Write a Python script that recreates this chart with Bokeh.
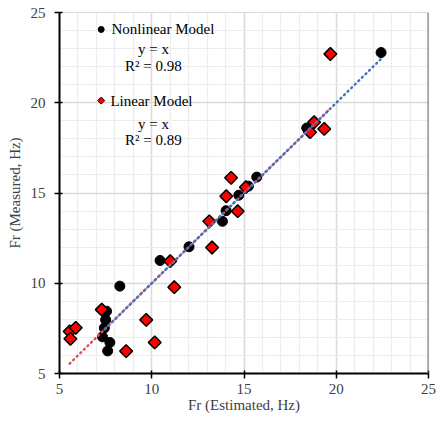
import numpy as np
from bokeh.plotting import figure
from bokeh.models import Range1d, Label, SingleIntervalTicker, Span
from bokeh.embed import file_html
from bokeh.resources import INLINE

# Nonlinear model (estimated, measured)
nl_est = [22.43, 18.40, 15.69, 15.24, 14.72, 14.03, 13.83, 12.02, 10.45, 8.27,
          7.55, 7.50, 7.43, 7.33, 7.73, 7.61]
nl_meas = [22.78, 18.60, 15.88, 15.38, 14.88, 14.02, 13.43, 12.02, 11.26, 9.84,
           8.45, 7.97, 7.52, 7.03, 6.72, 6.25]

# Linear model (estimated, measured)
lin_est = [19.68, 18.80, 18.58, 19.35, 14.30, 15.10, 14.04, 14.66, 13.12, 13.27,
           11.00, 11.22, 9.70, 10.16, 8.61, 7.29, 5.55, 5.88, 5.59]
lin_meas = [22.70, 18.92, 18.37, 18.55, 15.84, 15.32, 14.82, 13.99, 13.43, 11.98,
            11.22, 9.78, 7.97, 6.72, 6.24, 8.54, 7.33, 7.53, 6.92]

FONT = "Liberation Serif"

p = figure(width=436, height=424, output_backend="svg", toolbar_location=None,
           x_range=Range1d(5, 25), y_range=Range1d(5, 25),
           min_border_left=59, min_border_right=8, min_border_top=12,
           min_border_bottom=51, background_fill_color="white",
           border_fill_color="white", outline_line_color="#d9d9d9",
           outline_line_width=1)

for ax in (p.xaxis[0], p.yaxis[0]):
    ax.ticker = SingleIntervalTicker(interval=5, num_minor_ticks=5)
    ax.axis_line_color = "black"
    ax.axis_line_width = 2
    ax.major_tick_line_color = "black"
    ax.major_tick_line_width = 1.5
    ax.major_tick_out = 5
    ax.major_tick_in = 3
    ax.minor_tick_line_color = None
    ax.major_label_text_font = FONT
    ax.major_label_text_font_size = "15px"
    ax.major_label_text_color = "#404040"
    ax.axis_label_text_font = FONT
    ax.axis_label_text_font_size = "15px"
    ax.axis_label_text_font_style = "normal"
    ax.axis_label_text_color = "#404040"

p.xaxis.axis_label = "Fr (Estimated, Hz)"
p.yaxis.axis_label = "Fr (Measured, Hz)"
p.xaxis.major_label_standoff = 5
p.xaxis.axis_label_standoff = 0
p.yaxis.major_label_standoff = 9
p.yaxis.axis_label_standoff = 5

for g in (p.xgrid[0], p.ygrid[0]):
    g.ticker = SingleIntervalTicker(interval=5, num_minor_ticks=5)
    g.grid_line_color = "#d9d9d9"
    g.grid_line_width = 1.5
    g.minor_grid_line_color = "#ededed"
    g.minor_grid_line_width = 1.2

# dark right edge of the plot area
p.add_layout(Span(location=25, dimension="height", line_color="#6e6e6e",
                  line_width=2))

# markers
p.scatter(nl_est, nl_meas, marker="circle", size=10, fill_color="black",
          line_color="black", line_width=1)
p.scatter(lin_est, lin_meas, marker="square", size=9, angle=np.pi / 4,
          fill_color="red", line_color="black", line_width=1.5)

# y = x trend lines over each model's range
lx = [min(lin_est), max(lin_est)]
p.line(lx, lx, line_color="#D9534F", line_width=2.5, line_dash="1 4",
       line_cap="round")
nx = [min(nl_est), max(nl_est)]
p.line(nx, nx, line_color="#4472C4", line_width=2.5, line_dash="1 4",
       line_cap="round", line_dash_offset=2)

# legend-like annotations
p.scatter([7.26], [24.06], marker="circle", size=6, fill_color="black",
          line_color="black")
p.scatter([7.26], [20.12], marker="square", size=5, angle=np.pi / 4,
          fill_color="red", line_color="black", line_width=1)

def lab(x, y, t, align="left"):
    p.add_layout(Label(x=x, y=y, text=t, text_font=FONT, text_font_size="15px",
                       text_color="black", text_align=align,
                       text_baseline="middle"))

lab(7.82, 24.06, "Nonlinear Model")
lab(10.09, 23.0, "y = x", "center")
lab(10.09, 22.06, "R\u00b2 = 0.98", "center")
lab(7.76, 20.12, "Linear Model")
lab(10.09, 18.80, "y = x", "center")
lab(10.09, 17.91, "R\u00b2 = 0.89", "center")

open("out.html", "w").write(file_html(p, INLINE))
